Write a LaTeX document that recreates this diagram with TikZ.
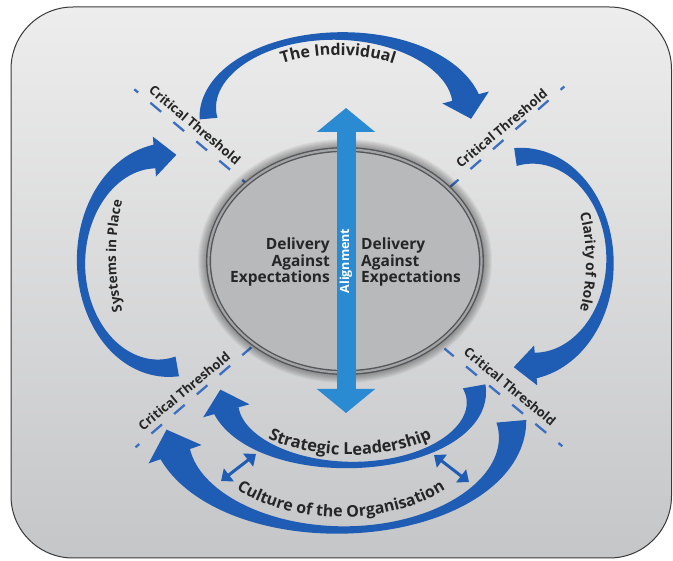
\documentclass[tikz,border=0pt]{standalone}
\usepackage{fontspec}
\setmainfont{Open Sans}
\usetikzlibrary{calc,arrows.meta,shapes.geometric,decorations.text}
\definecolor{bandblue}{HTML}{1F5CB4}
\definecolor{alignblue}{HTML}{2A8AD2}
\definecolor{dashblue}{HTML}{3C6FC2}
\definecolor{ellfill}{HTML}{B8B9BB}
\definecolor{ringdark}{HTML}{55565A}
\definecolor{ringlight}{HTML}{A3A4A6}
\definecolor{textdark}{HTML}{262626}
\definecolor{bgtop}{HTML}{EDEDED}
\definecolor{bgmid}{HTML}{E3E3E4}
\definecolor{bgbot}{HTML}{C5C6C8}
\definecolor{bgline}{HTML}{3A3A3A}
% crescent band: cx cy rx ry t0 t1 wA wM wB
\newcommand\crescent[9]{%
 \fill[bandblue, declare function={ss(\u)=(\u-(#5))/((#6)-(#5));
   wd(\u)=(#7)*2*(ss(\u)-0.5)*(ss(\u)-1)-(#8)*4*ss(\u)*(ss(\u)-1)+(#9)*2*ss(\u)*(ss(\u)-0.5);}]
  plot[variable=\t, domain=#5:#6, samples=80] ({#1+(#3+0.5*wd(\t))*cos(\t)},{#2+(#4+0.5*wd(\t))*sin(\t)})
  -- plot[variable=\t, domain=#6:#5, samples=80] ({#1+(#3-0.5*wd(\t))*cos(\t)},{#2+(#4-0.5*wd(\t))*sin(\t)})
  -- cycle;}
% arrow head at end of band: cx cy rx ry t1 length halfwidth
\newcommand\bandhead[7]{%
 \path ({#1+(#3)*cos(#5-1)},{#2+(#4)*sin(#5-1)}) coordinate (hp)
       ({#1+(#3)*cos(#5+4)},{#2+(#4)*sin(#5+4)}) coordinate (hq);
 \fill[bandblue] ($(hp)!#7!90:(hq)$) -- ($(hp)!#6!(hq)$) -- ($(hp)!#7!-90:(hq)$) -- cycle;}
\tikzset{
 ctline/.style={draw=dashblue, line width=2.3pt, dash pattern=on 14pt off 16pt, dash phase=9pt},
 cttext/.style={font=\bfseries\fontsize{13}{13}\selectfont, text=textdark, inner sep=0pt},
 deliv/.style={font=\bfseries\fontsize{15.5}{16.5}\selectfont, text=textdark, inner sep=0pt},
 dbl/.style={draw=bandblue, line width=3pt, arrows={Triangle[length=10pt,width=16pt]-Triangle[length=10pt,width=16pt]}},
}
\begin{document}
\begin{tikzpicture}[x=1pt,y=-1pt]
\useasboundingbox (0,0) rectangle (673,561);
% background panel
\draw[draw=bgline, line width=1pt, rounded corners=62pt, top color=bgtop, middle color=bgmid, bottom color=bgbot]
  (11,7) rectangle (671.5,558);
% critical threshold lines
\coordinate (tl1) at (134.3,89.3);  \coordinate (tl2) at (251.5,187.7);
\coordinate (tr1) at (564.3,86.5);  \coordinate (tr2) at (449.5,187.5);
\coordinate (bl1) at (135.5,447.3); \coordinate (bl2) at (251.3,347.4);
\coordinate (br1) at (562.3,446.2); \coordinate (br2) at (444.4,348.5);
\draw[ctline] (tl1) -- (tl2);
\draw[ctline] (tr1) -- (tr2);
\draw[ctline] (bl1) -- (bl2);
\draw[ctline] (br1) -- (br2);
\node[cttext, rotate=-40] (ctTL) at (195,125) {Critical Threshold};
\node[cttext, rotate=40] (ctTR) at (501.5,128.5) {Critical Threshold};
\node[cttext, rotate=39.5] (ctBL) at (184,391) {Critical Threshold};
\node[cttext, rotate=-39.5] (ctBR) at (510,386.5) {Critical Threshold};
% central ellipse with soft shadow
\coordinate (ec) at (345,261);
\foreach \i in {1,...,9} {\fill[black, opacity=0.045] (ec) ellipse ({138+\i} and {113+\i});}
\node[ellipse, minimum width=273pt, minimum height=223pt, inner sep=0pt, fill=ellfill,
      draw=ringdark, line width=1.4pt, double=ringlight, double distance=2.2pt] (ell) at (ec) {};
\node[deliv, anchor=east, align=right] (delL) at (330,262) {Delivery\\Against\\Expectations};
\node[deliv, anchor=west, align=left] (delR) at (361,262) {Delivery\\Against\\Expectations};
% alignment arrow
\coordinate (atop) at (346,108);
\coordinate (abot) at (346,413);
\draw[alignblue, line width=19pt, arrows={Triangle[length=24pt,width=57pt]-Triangle[length=24pt,width=57pt]}] (atop) -- (abot);
\node[font=\bfseries\fontsize{12.5}{12.5}\selectfont, text=white, rotate=90, inner sep=0pt] (alig) at (346,261) {Alignment};
% The Individual
\crescent{338}{112}{130}{76}{175}{350}{18}{7}{28}
\bandhead{338}{112}{130}{76}{350}{22pt}{24pt}
% Clarity of Role
\crescent{527}{261}{83}{105}{262}{445}{18}{7}{26}
\bandhead{527}{261}{83}{105}{445}{22pt}{20pt}
% Systems in Place
\crescent{163}{262}{82}{106}{80}{265}{20}{8}{24}
\bandhead{163}{262}{82}{106}{265}{22pt}{20pt}
% Strategic Leadership
\crescent{350}{398}{126}{67}{-10}{170}{23}{6}{26}
\bandhead{350}{398}{126}{67}{170}{22pt}{24pt}
% Culture of the Organisation
\crescent{341}{430}{171}{100}{-5}{167}{30}{7}{32}
\bandhead{341}{430}{171}{100}{167}{26pt}{28pt}
% curved labels
\path[decorate, decoration={text along path, text align=center, text color=textdark,
   text={|\bfseries\fontsize{16}{16}\selectfont|The Individual}}]
   plot[variable=\t, domain=195:345, samples=80] ({338+105*cos(\t)},{112+57*sin(\t)});
\path[decorate, decoration={text along path, text align=center, text color=textdark,
   text={|\bfseries\fontsize{13.5}{13.5}\selectfont|Systems in Place}}]
   plot[variable=\t, domain=145:215, samples=80] ({163+47*cos(\t)},{256+110*sin(\t)});
\path[decorate, decoration={text along path, text align=center, text color=textdark,
   text={|\bfseries\fontsize{14}{14}\selectfont|Clarity of Role}}]
   plot[variable=\t, domain=-35:35, samples=80] ({527+59*cos(\t)},{262+110*sin(\t)});
\path[decorate, decoration={text along path, text align=center, text color=textdark,
   text={|\bfseries\fontsize{16.5}{16.5}\selectfont|Strategic Leadership}}]
   plot[variable=\t, domain=175:5, samples=80] ({350+116*cos(\t)},{398+57*sin(\t)});
\path[decorate, decoration={text along path, text align=center, text color=textdark,
   text={|\bfseries\fontsize{16}{16}\selectfont|Culture of the Organisation}}]
   plot[variable=\t, domain=165:15, samples=80] ({341+143*cos(\t)},{430+87*sin(\t)});
% small double arrows
\coordinate (dlA) at (221,481); \coordinate (dlB) at (256,454);
\coordinate (drA) at (434,455); \coordinate (drB) at (469,482);
\draw[dbl] (dlA) -- (dlB);
\draw[dbl] (drA) -- (drB);
\end{tikzpicture}
\end{document}
